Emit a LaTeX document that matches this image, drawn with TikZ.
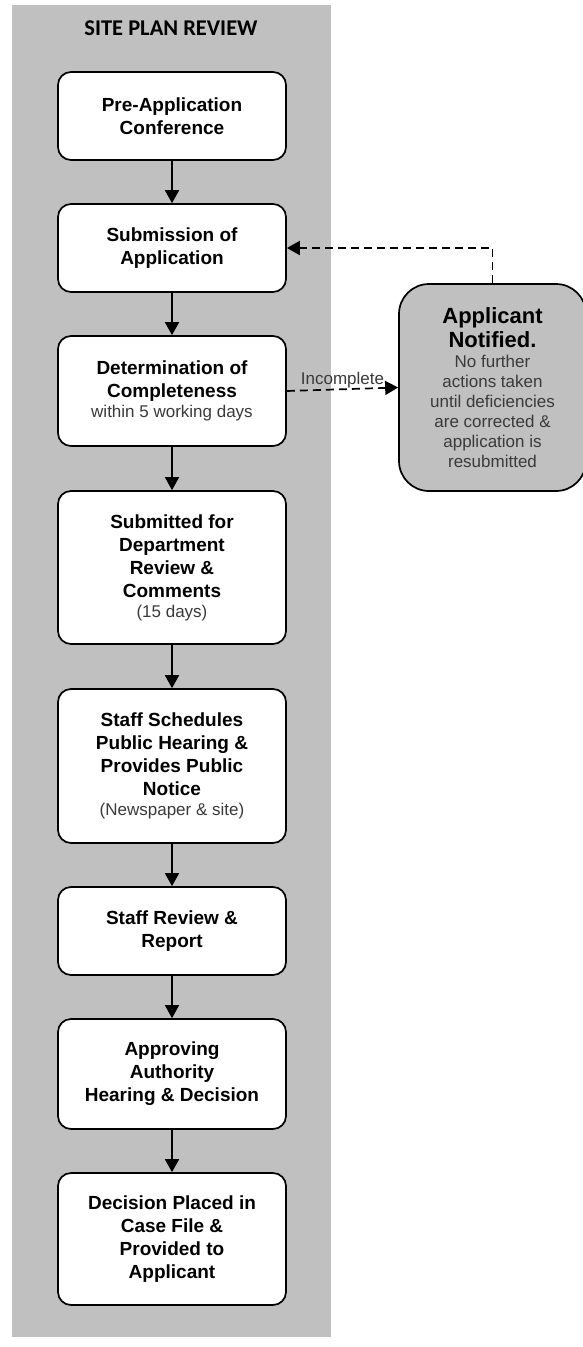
\documentclass[tikz,border=0pt]{standalone}
\usepackage{fontspec}
\setmainfont{Liberation Sans}
\newfontfamily\titlefont{Carlito}
\usetikzlibrary{arrows.meta}

\definecolor{bandgray}{HTML}{C0C0C0}
\definecolor{subgray}{HTML}{3A3A3A}

\tikzset{
    stepbox/.style={draw, line width=1.7pt, rounded corners=13pt, fill=white,
        minimum width=228pt, align=center, inner sep=0pt,
        font=\fontsize{19}{23}\selectfont\bfseries},
    notebox/.style={draw, line width=1.7pt, rounded corners=30pt, fill=bandgray,
        minimum width=187pt, minimum height=207pt, align=center, inner sep=0pt,
        font=\fontsize{17}{20}\selectfont, text=subgray},
    flow/.style={-{Triangle[length=13pt,width=14pt]}, line width=1.7pt},
    back/.style={flow, dash pattern=on 8pt off 5pt},
}
\newcommand{\subline}[1]{{\fontsize{17}{20}\selectfont\mdseries\color{subgray}#1}}
\newcommand{\headline}[1]{{\fontsize{22}{25}\selectfont\bfseries\color{black}#1}}

\begin{document}
\begin{tikzpicture}[x=1pt, y=-1pt]

    % Page and lane
    \useasboundingbox (0,0) rectangle (582,1347);
    \fill[bandgray] (12,5) rectangle (331,1337);
    \node[font=\titlefont\fontsize{22.5}{26}\selectfont\bfseries] (title) at (171,28) {SITE PLAN REVIEW};

    % Steps of the review
    \def\xc{172}
    \node[stepbox, minimum height=88pt] (conf) at (\xc,116) {Pre-Application\\Conference};
    \node[stepbox, minimum height=88pt] (subm) at (\xc,248) {Submission of\\Application};
    \node[stepbox, minimum height=110pt] (compl) at (\xc,391)
        {Determination of\\Completeness\\[-3pt]\subline{within 5 working days}};
    \node[stepbox, minimum height=153pt] (dept) at (\xc,567.5)
        {Submitted for\\Department\\Review \&\\Comments\\[-3pt]\subline{(15 days)}};
    \node[stepbox, minimum height=154pt] (notice) at (\xc,766)
        {Staff Schedules\\Public Hearing \&\\Provides Public\\Notice\\[-3pt]\subline{(Newspaper \& site)}};
    \node[stepbox, minimum height=88pt] (report) at (\xc,931) {Staff Review \&\\Report};
    \node[stepbox, minimum height=110pt] (hearing) at (\xc,1074) {Approving\\Authority\\Hearing \& Decision};
    \node[stepbox, minimum height=132pt] (decision) at (\xc,1239)
        {Decision Placed in\\Case File \&\\Provided to\\Applicant};

    % Incomplete applications
    \node[notebox] (notified) at (492.5,387.5)
        {\headline{Applicant}\\[3pt]\headline{Notified.}\\No further\\actions taken\\until deficiencies\\are corrected \&\\application is\\resubmitted};

    % Arrows down the lane
    \foreach \a/\b in {conf/subm, subm/compl, compl/dept, dept/notice, notice/report, report/hearing, hearing/decision}
        \draw[flow] (\a.south) -- (\b.north);

    % Dashed loop back
    \draw[back] (compl.east) -- (notified.west)
        node[midway, above, inner sep=0pt, font=\fontsize{17}{20}\selectfont, text=subgray] {Incomplete};
    \draw[back] (notified.north) |- (subm.east);

\end{tikzpicture}
\end{document}
